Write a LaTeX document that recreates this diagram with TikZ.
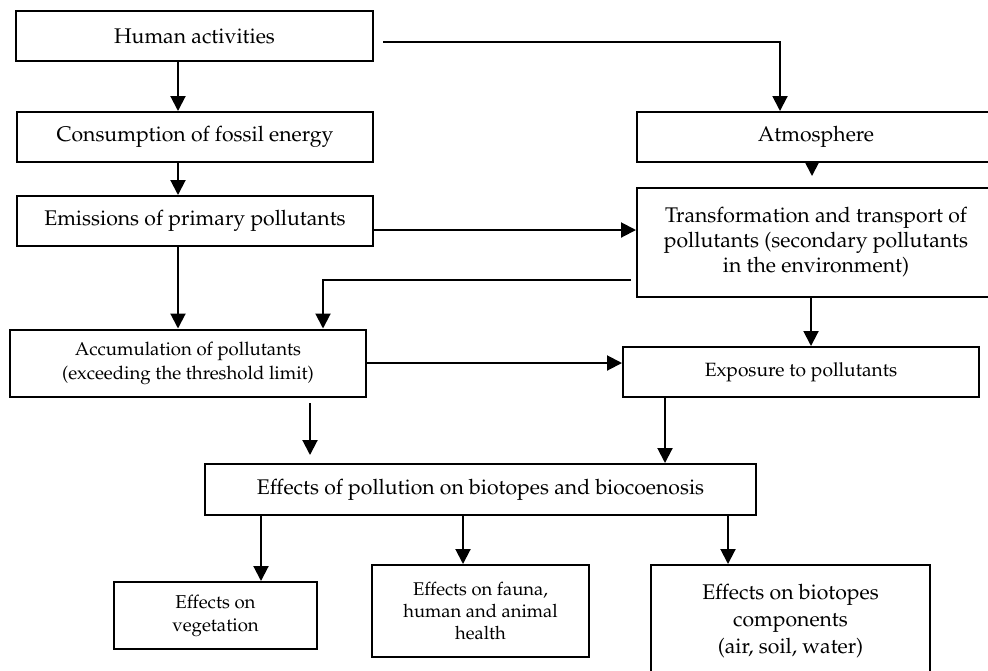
\documentclass[tikz,border=0pt]{standalone}
\usepackage[T1]{fontenc}
\usepackage{mathpazo}
\usetikzlibrary{positioning,arrows.meta}

\begin{document}
\begin{tikzpicture}[x=0.5pt,y=-0.5pt,
	box/.style={draw, line width=1pt, align=center, inner sep=2pt, font=\fontsize{10.6}{12.5}\selectfont},
	arr/.style={line width=1pt, -{Triangle[width=7.5pt,length=7.5pt]}}]
					\useasboundingbox (0,0) rectangle (988,670);
					\node[box, minimum width=178.5pt, minimum height=25pt] (human) at (194.5,36) {Human activities};
					\node[box, minimum width=178pt, minimum height=25pt] (consump) at (195,137) {Consumption of fossil energy};
					\node[box, minimum width=178pt, minimum height=25pt] (emis) at (195,221) {Emissions of primary pollutants};
					\node[box, minimum width=179pt, minimum height=25pt] (atmos) at (816,137) {Atmosphere};
					\node[box, minimum width=179pt, minimum height=54.5pt] (transf) at (816,242.5) {Transformation and transport of\\pollutants (secondary pollutants\\in the environment)};
					\node[box, minimum width=178pt, minimum height=33.5pt, font=\fontsize{9.3}{12}\selectfont] (accum) at (188,363) {Accumulation of pollutants\\(exceeding the threshold limit)};
					\node[box, minimum width=178pt, minimum height=25pt, font=\fontsize{9.6}{11}\selectfont] (expo) at (801,372) {Exposure to pollutants};
					\node[box, minimum width=275.5pt, minimum height=25.5pt] (effects) at (480.5,489.5) {Effects of pollution on biotopes and biocoenosis};
					\node[box, minimum width=101.5pt, minimum height=33.5pt, font=\fontsize{9.3}{11.5}\selectfont] (veg) at (215.5,615.5) {Effects on\\vegetation};
					\node[box, minimum width=108.5pt, minimum height=46pt, font=\fontsize{9.2}{11}\selectfont] (fauna) at (480.5,611) {Effects on fauna,\\human and animal\\health};
					\node[box, minimum width=139.5pt, minimum height=56pt, font=\fontsize{10.6}{13.5}\selectfont] (biot) at (790.5,621) {Effects on biotopes\\components\\(air, soil, water)};
					\coordinate (c1) at (178,0);
					\coordinate (c2) at (780,0);
					\coordinate (c3) at (323,0);
					\coordinate (c4) at (665,0);
					\coordinate (c5) at (261,0);
					\coordinate (c6) at (463,0);
					\coordinate (c7) at (728,0);
					\coordinate (hA) at (383,42);
					\coordinate (tA) at (631,280);
					\coordinate (aD) at (310,403);
					\draw[arr] (human.south -| c1) -- (consump.north -| c1);
					\draw[arr] (consump.south -| c1) -- (emis.north -| c1);
					\draw[arr] (emis.south -| c1) -- (accum.north -| c1);
					\draw[arr] (hA) -| (atmos.north -| c2);
					\draw[arr, shorten >=5.5pt] ([xshift=-2pt]atmos.south) -- ([xshift=-2pt]transf.north);
					\draw[arr] ([yshift=-4.5pt]emis.east) -- ([yshift=-4.5pt]emis.east -| transf.west);
					\draw[arr] (tA) -| (accum.north -| c3);
					\draw[arr] ([xshift=-2.5pt]transf.south) -- ([xshift=-2.5pt]transf.south |- expo.north);
					\draw[arr] (accum.east) -- (accum.east -| expo.west);
					\draw[arr, shorten >=4pt] (aD) -- (aD |- effects.north);
					\draw[arr] (expo.south -| c4) -- (effects.north -| c4);
					\draw[arr] (effects.south -| c5) -- (veg.north -| c5);
					\draw[arr] (effects.south -| c6) -- (fauna.north -| c6);
					\draw[arr] (effects.south -| c7) -- (biot.north -| c7);
				\end{tikzpicture}
\end{document}
